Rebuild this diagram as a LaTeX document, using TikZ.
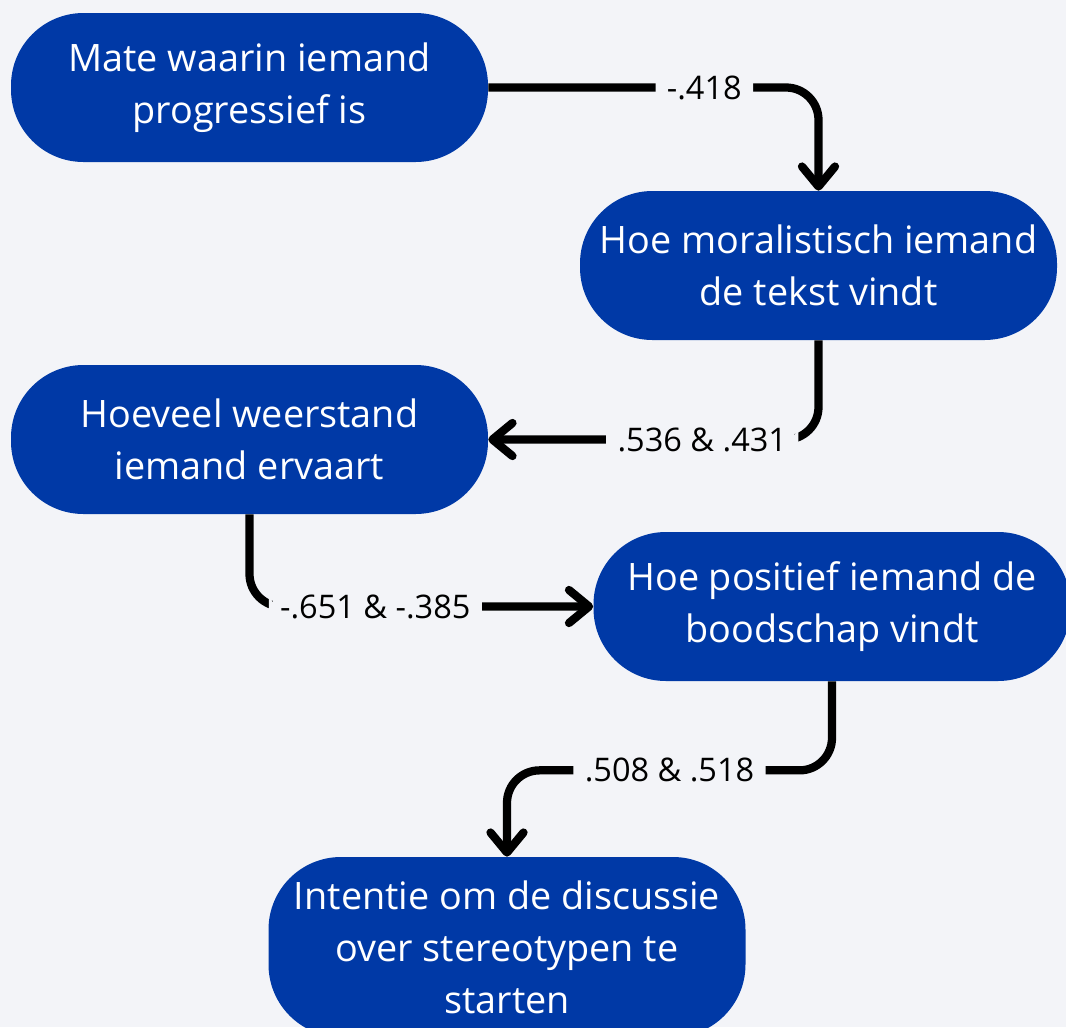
\documentclass[tikz,border=0pt]{standalone}
\usepackage{fontspec}
\setmainfont{Open Sans}
\usetikzlibrary{arrows.meta}
\definecolor{achtergrond}{HTML}{F3F4F8}
\definecolor{blauw}{HTML}{0039A6}
\tikzset{
  blok/.style={draw=none,fill=blauw,text=white,rectangle,rounded corners=1.45cm,
    minimum width=9.54cm,minimum height=2.98cm,align=center,
    font=\fontsize{21.5}{29.5}\selectfont},
  pad/.style={line width=4.7pt,rounded corners=0.65cm,
    -{Straight Barb[round,length=0.4cm,width=0.66cm]},line join=round},
  getal/.style={fill=achtergrond,draw=achtergrond,line width=1.5pt,inner sep=0.2cm,
    text=black,font=\fontsize{18.5}{22}\selectfont}
}
\newcommand{\blok}[4]{\node[blok] (#1) at (#2,#3) {#4};}
\newcommand{\padHV}[4]{\draw[pad] (#1) -| node[getal,pos=#3] {#4} (#2);}
\newcommand{\padVH}[4]{\draw[pad] (#1) |- node[getal,pos=#3] {#4} (#2);}

\begin{document}
\begin{tikzpicture}
    \path[use as bounding box,fill=achtergrond] (0,0) rectangle (21.32,-20.54);
    \blok{A}{4.99}{-1.75}{Mate waarin iemand\\progressief is}
    \blok{B}{16.37}{-5.31}{Hoe moralistisch iemand\\de tekst vindt}
    \blok{C}{4.99}{-8.79}{Hoeveel weerstand\\iemand ervaart}
    \blok{D}{16.64}{-12.13}{Hoe positief iemand de\\boodschap vindt}
    \node[blok,minimum height=3.6cm] (E) at (10.14,-18.94) {Intentie om de discussie\\over stereotypen te\\starten};
    \padHV{A.east}{B.north}{0.327}{-.418}
    \padVH{B.south}{C.east}{0.676}{.536 \& .431}
    \padVH{C.south}{D.west}{0.683}{-.651 \& -.385}
    \draw[pad] (D.south) -- ++(0,-1.78) -| node[getal,pos=0.25] {.508 \& .518} (E.north);
\end{tikzpicture}
\end{document}
